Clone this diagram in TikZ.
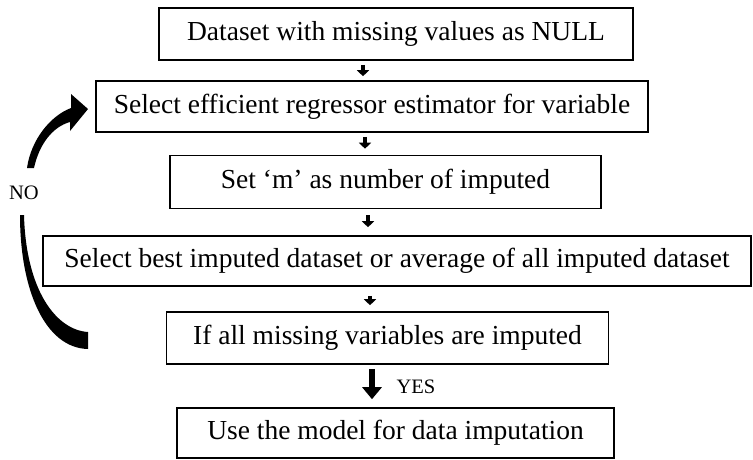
\documentclass[tikz,border=0pt]{standalone}
\usepackage{fontspec}
\setmainfont{Liberation Serif}
\usetikzlibrary{arrows.meta}
\tikzset{
  stepbox/.style={draw=black, line width=1.6pt, inner sep=0pt, font=\fontsize{27.5}{31}\selectfont, anchor=center},
  sarrow/.style={line width=4pt, -{Triangle[width=12pt,length=6pt]}},
  barrow/.style={line width=6pt, -{Triangle[width=19pt,length=12pt]}},
  lbl/.style={font=\fontsize{20.5}{24}\selectfont, inner sep=0pt}
}
\begin{document}
\begin{tikzpicture}[x=1pt,y=-1pt]
\useasboundingbox (0,0) rectangle (753,459);
\node[stepbox, minimum width=474pt, minimum height=52pt] (b1) at (396,34) {Dataset with missing values as NULL};
\node[stepbox, minimum width=552pt, minimum height=51pt] (b2) at (372,106.5) {Select efficient regressor estimator for variable};
\node[stepbox, minimum width=431pt, minimum height=53pt] (b3) at (385.5,182) {Set ‘m’ as number of imputed};
\node[stepbox, minimum width=708pt, minimum height=50pt] (b4) at (397,261) {Select best imputed dataset or average of all imputed dataset};
\node[stepbox, minimum width=442pt, minimum height=52pt] (b5) at (387.5,338) {If all missing variables are imputed};
\node[stepbox, minimum width=437pt, minimum height=50pt] (b6) at (395.5,433) {Use the model for data imputation};
% small arrows
\coordinate (x1) at (363,0);
\coordinate (x2) at (365,0);
\coordinate (x3) at (368,0);
\coordinate (x4) at (370,0);
\coordinate (x5) at (372,0);
\draw[sarrow, shorten <=4pt, shorten >=4pt] (b1.south -| x1) -- (b2.north -| x1);
\draw[sarrow, shorten <=4pt, shorten >=6pt] (b2.south -| x2) -- (b3.north -| x2);
\draw[sarrow, shorten <=6pt, shorten >=8pt] (b3.south -| x3) -- (b4.north -| x3);
\draw[sarrow, shorten <=9pt, shorten >=6pt] (b4.south -| x4) -- (b5.north -| x4);
\draw[barrow, shorten <=4pt, shorten >=8pt] (b5.south -| x5) -- (b6.north -| x5);
\node[lbl] (yes) at (416,387) {YES};
\node[lbl] (no) at (24,193) {NO};
% NO curved block arrow
\fill (27,168) .. controls (31,140) and (50,116) .. (71,108) -- (71,94) -- (88,109) -- (70,131) -- (70,122) .. controls (52,127) and (39,145) .. (34,168) -- cycle;
\fill (20,215) .. controls (20,290) and (45,348) .. (88,349) -- (88,332) .. controls (56,330) and (26,290) .. (24,215) -- cycle;
\end{tikzpicture}
\end{document}
